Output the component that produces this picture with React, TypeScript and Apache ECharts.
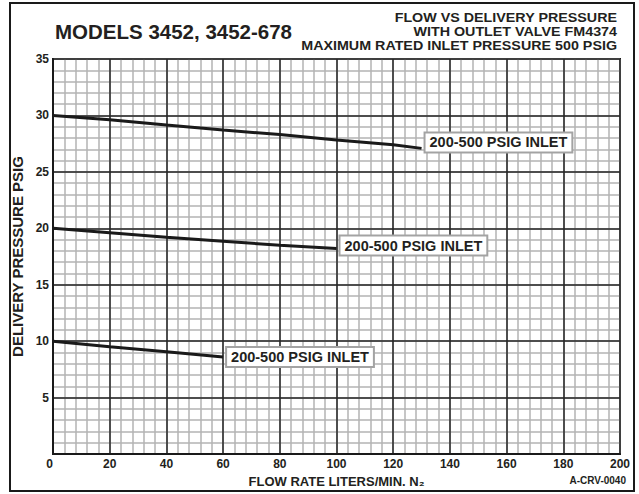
import React, { useEffect, useRef } from "react";
import * as echarts from "echarts";

const flowTop = [0, 20, 40, 60, 80, 100, 120, 130];
const pressTop = [30, 29.62, 29.15, 28.7, 28.3, 27.83, 27.4, 27.08];
const flowMid = [0, 20, 40, 60, 80, 100];
const pressMid = [20, 19.6, 19.2, 18.85, 18.5, 18.2];
const flowLow = [0, 20, 40, 60];
const pressLow = [10, 9.5, 9.07, 8.6];
const curveLabel = "200-500 PSIG INLET";
const titleLeft = "MODELS 3452, 3452-678";
const titleRight = [
  "FLOW VS DELIVERY PRESSURE",
  "WITH OUTLET VALVE FM4374",
  "MAXIMUM RATED INLET PRESSURE 500 PSIG",
];
const xName = "FLOW RATE LITERS/MIN. N\u2082";
const yName = "DELIVERY PRESSURE PSIG";
const drawingNo = "A-CRV-0040";

const FONT = "'Liberation Sans', Arial, Helvetica, sans-serif";
const INK = "#231f20";

function pairs(xs: number[], ys: number[]) {
  return xs.map((x, i) => [x, ys[i]]);
}

export default function App() {
  const ref = useRef<HTMLDivElement>(null);
  useEffect(() => {
    if (!ref.current) return;
    const chart = echarts.init(ref.current, undefined, { renderer: "svg" });
    const boxLabel = (offsetY: number) => ({
      show: true,
      formatter: curveLabel,
      distance: 4,
      offset: [0, offsetY],
      backgroundColor: "#ffffff",
      borderColor: "#a3a3a3",
      borderWidth: 2,
      padding: [2, 4, 1, 4],
      fontFamily: FONT,
      fontWeight: "bold",
      fontSize: 14.5,
      lineHeight: 15,
      color: INK,
    });
    const lineSeries = (data: number[][], offsetY: number) => ({
      type: "line",
      xAxisIndex: 1,
      yAxisIndex: 1,
      data,
      showSymbol: false,
      symbol: "none",
      lineStyle: { color: "#1a1a1a", width: 3 },
      endLabel: boxLabel(offsetY),
      z: 5,
    });
    const greyLine = { show: true, lineStyle: { color: "#b3b3b3", width: 1.5 } };
    const blackLine = { show: true, lineStyle: { color: "#262626", width: 1.5 } };
    const tickLabel = {
      fontFamily: FONT,
      fontWeight: "bold",
      fontSize: 12,
      color: INK,
    };
    chart.setOption({
      animation: false,
      backgroundColor: "#ffffff",
      grid: {
        left: 53,
        top: 59,
        width: 567,
        height: 395,
        show: true,
        borderColor: "#1a1a1a",
        borderWidth: 2,
        backgroundColor: "transparent",
      },
      xAxis: [
        {
          type: "value",
          position: "bottom",
          min: 0,
          max: 200,
          interval: 4,
          z: 0,
          axisLine: { show: false },
          axisTick: { show: false },
          axisLabel: { show: false },
          splitLine: greyLine,
        },
        {
          type: "value",
          position: "bottom",
          min: 0,
          max: 200,
          interval: 20,
          z: 1,
          axisLine: { show: true, lineStyle: { color: "#1a1a1a", width: 2 } },
          axisTick: { show: false },
          axisLabel: { ...tickLabel, margin: 4, alignMinLabel: "right" },
          splitLine: blackLine,
          name: xName,
          nameLocation: "middle",
          nameGap: 19,
          nameTextStyle: {
            fontFamily: FONT,
            fontWeight: "bold",
            fontSize: 13,
            color: INK,
            verticalAlign: "top",
          },
        },
      ],
      yAxis: [
        {
          type: "value",
          position: "left",
          min: 0,
          max: 35,
          interval: 1,
          z: 0,
          axisLine: { show: false },
          axisTick: { show: false },
          axisLabel: { show: false },
          splitLine: greyLine,
        },
        {
          type: "value",
          position: "left",
          min: 0,
          max: 35,
          interval: 5,
          z: 1,
          axisLine: { show: true, lineStyle: { color: "#1a1a1a", width: 2 } },
          axisTick: { show: false },
          axisLabel: {
            ...tickLabel,
            margin: 4,
            formatter: (v: number) => (v === 0 ? "" : String(v)),
          },
          splitLine: blackLine,
          name: yName,
          nameLocation: "middle",
          nameGap: 24,
          nameRotate: 90,
          nameTextStyle: {
            fontFamily: FONT,
            fontWeight: "bold",
            fontSize: 15,
            color: INK,
          },
        },
      ],
      series: [
        lineSeries(pairs(flowTop, pressTop), -6),
        lineSeries(pairs(flowMid, pressMid), -3),
        lineSeries(pairs(flowLow, pressLow), 0),
      ],
      graphic: [
        {
          type: "rect",
          shape: { x: 10, y: 3, width: 624, height: 488 },
          style: { fill: "none", stroke: "#1a1a1a", lineWidth: 2 },
          silent: true,
        },
        {
          type: "text",
          x: 55,
          y: 31,
          style: {
            text: titleLeft,
            fontFamily: FONT,
            fontWeight: "bold",
            fontSize: 20.5,
            fill: INK,
            align: "left",
            verticalAlign: "middle",
          },
        },
        ...titleRight.map((t, i) => ({
          type: "text",
          x: 617,
          y: 18 + i * 14,
          scaleX: 1.1,
          style: {
            text: t,
            fontFamily: FONT,
            fontWeight: "bold",
            fontSize: 13,
            fill: INK,
            align: "right",
            verticalAlign: "middle",
          },
        })),
        {
          type: "text",
          x: 626,
          y: 480,
          style: {
            text: drawingNo,
            fontFamily: FONT,
            fontWeight: "bold",
            fontSize: 10,
            fill: INK,
            align: "right",
            verticalAlign: "middle",
          },
        },
      ],
    });
    return () => chart.dispose();
  }, []);
  return (
    <div
      ref={ref}
      style={{ position: "absolute", left: 0, top: 0, width: 639, height: 494 }}
    />
  );
}
